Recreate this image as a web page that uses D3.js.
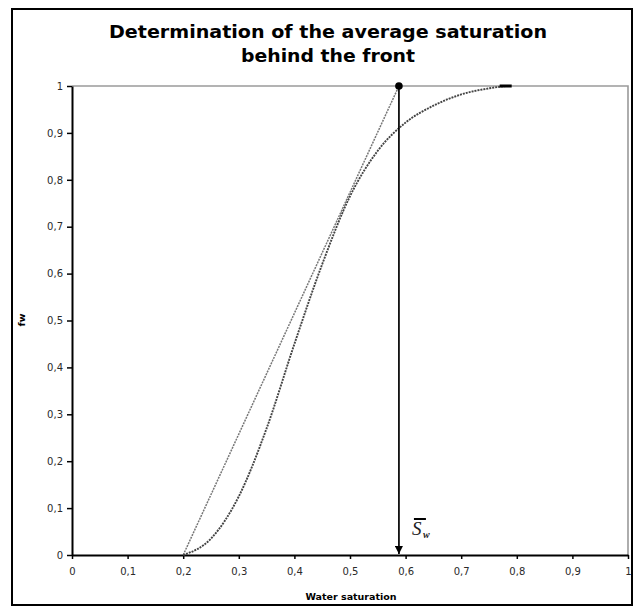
<!doctype html>
<html>
<head>
	<meta charset="utf-8">
	<title>Average saturation behind the front</title>
	<script src="https://cdnjs.cloudflare.com/ajax/libs/d3/7.8.5/d3.min.js"></script>
	<style>
		body { margin: 0; background: #fff; }
		text { font-family: "DejaVu Sans", Verdana, sans-serif; }
		text.serif { font-family: "Liberation Serif", "DejaVu Serif", serif; font-style: italic; }
	</style>
</head>
<body>
	<script>
		// fractional flow curve fw(Sw)
		var sw = [0.20, 0.25, 0.30, 0.35, 0.40, 0.45, 0.50, 0.55, 0.60, 0.65, 0.70, 0.75, 0.78];
		var fw = [0, 0.035, 0.125, 0.27, 0.45, 0.62, 0.765, 0.862, 0.922, 0.958, 0.982, 0.995, 1];

		// tangent from the connate water point to fw = 1
		var tangentSw = [0.20, 0.588];
		var tangentFw = [0, 1];

		// average saturation behind the front
		var swAvg = 0.588;

		var xTicks = [0, 0.1, 0.2, 0.3, 0.4, 0.5, 0.6, 0.7, 0.8, 0.9, 1];
		var xTickLabels = ['0', '0,1', '0,2', '0,3', '0,4', '0,5', '0,6', '0,7', '0,8', '0,9', '1'];
		var yTicks = [0, 0.1, 0.2, 0.3, 0.4, 0.5, 0.6, 0.7, 0.8, 0.9, 1];
		var yTickLabels = ['0', '0,1', '0,2', '0,3', '0,4', '0,5', '0,6', '0,7', '0,8', '0,9', '1'];

		var W = 636, H = 615;

		var svg = d3.select('body').append('svg')
			.attr('width', W)
			.attr('height', H);

		// chart frame
		svg.append('rect')
			.attr('x', 12).attr('y', 9)
			.attr('width', 620).attr('height', 596)
			.attr('fill', '#fff')
			.attr('stroke', '#000')
			.attr('stroke-width', 2);

		var x = d3.scaleLinear().domain([0, 1]).range([72, 628]);
		var y = d3.scaleLinear().domain([0, 1]).range([555, 86]);

		// title
		var title = svg.append('text')
			.attr('text-anchor', 'middle')
			.attr('font-weight', 'bold')
			.attr('font-size', 17)
			.attr('fill', '#000');
		title.append('tspan').attr('x', 328).attr('y', 38)
			.attr('textLength', 438).attr('lengthAdjust', 'spacingAndGlyphs')
			.text('Determination of the average saturation');
		title.append('tspan').attr('x', 328).attr('y', 62)
			.attr('textLength', 174).attr('lengthAdjust', 'spacingAndGlyphs')
			.text('behind the front');

		// plot area border (top and right, grey)
		svg.append('path')
			.attr('d', 'M' + x(0) + ',' + y(1) + 'H' + x(1) + 'V' + y(0))
			.attr('fill', 'none')
			.attr('stroke', '#9a9a9a')
			.attr('stroke-width', 1.6);

		// axes
		var xAxis = svg.append('g')
			.attr('transform', 'translate(0,' + y(0) + ')')
			.call(d3.axisBottom(x)
				.tickValues(xTicks)
				.tickSizeInner(4)
				.tickSizeOuter(0)
				.tickPadding(9)
				.tickFormat(function (d, i) { return xTickLabels[i]; }));

		var yAxis = svg.append('g')
			.attr('transform', 'translate(' + x(0) + ',0)')
			.call(d3.axisLeft(y)
				.tickValues(yTicks)
				.tickSizeInner(5)
				.tickSizeOuter(0)
				.tickPadding(4)
				.tickFormat(function (d, i) { return yTickLabels[i]; }));

		[xAxis, yAxis].forEach(function (a) {
			a.select('.domain').attr('stroke', '#000').attr('stroke-width', 2);
			a.selectAll('.tick line').attr('stroke', '#000').attr('stroke-width', 1.5);
			a.selectAll('.tick text')
				.attr('font-family', '"DejaVu Sans", Verdana, sans-serif')
				.attr('font-size', 10)
				.attr('fill', '#2a2a2a');
		});

		// axis titles
		svg.append('text')
			.attr('x', 351).attr('y', 600)
			.attr('text-anchor', 'middle')
			.attr('font-weight', 'bold')
			.attr('font-size', 9.5)
			.text('Water saturation');

		svg.append('text')
			.attr('transform', 'translate(25,320) rotate(-90)')
			.attr('text-anchor', 'middle')
			.attr('font-weight', 'bold')
			.attr('font-size', 9.5)
			.text('fw');

		// tangent line
		var tangent = d3.line()
			.x(function (d) { return x(d[0]); })
			.y(function (d) { return y(d[1]); });

		svg.append('path')
			.datum(d3.zip(tangentSw, tangentFw))
			.attr('d', tangent)
			.attr('fill', 'none')
			.attr('stroke', '#777')
			.attr('stroke-width', 1.5)
			.attr('stroke-dasharray', '2,1');

		// fw curve
		var curve = d3.line()
			.x(function (d) { return x(d[0]); })
			.y(function (d) { return y(d[1]); })
			.curve(d3.curveMonotoneX);

		var pts = d3.zip(sw, fw);
		svg.append('path')
			.datum(pts)
			.attr('d', curve)
			.attr('fill', 'none')
			.attr('stroke', '#444')
			.attr('stroke-width', 1.9)
			.attr('stroke-dasharray', '2,1');

		// end marker of the curve
		var last = pts[pts.length - 1];
		svg.append('rect')
			.attr('x', x(last[0]) - 6).attr('y', y(last[1]) - 1.5)
			.attr('width', 12).attr('height', 3)
			.attr('fill', '#000');

		// vertical arrow down to the average saturation
		svg.append('defs').append('marker')
			.attr('id', 'arrow')
			.attr('viewBox', '0 0 10 10')
			.attr('refX', 10).attr('refY', 5)
			.attr('markerWidth', 5).attr('markerHeight', 5)
			.attr('markerUnits', 'strokeWidth')
			.attr('orient', 'auto')
			.append('path')
			.attr('d', 'M0,0L10,5L0,10z')
			.attr('fill', '#000');

		svg.append('line')
			.attr('x1', x(swAvg)).attr('y1', y(1))
			.attr('x2', x(swAvg)).attr('y2', y(0) - 1)
			.attr('stroke', '#000')
			.attr('stroke-width', 1.7)
			.attr('marker-end', 'url(#arrow)');

		svg.append('circle')
			.attr('cx', x(swAvg)).attr('cy', y(1))
			.attr('r', 3.8)
			.attr('fill', '#000');

		// S̄w label
		var lbl = svg.append('g')
			.attr('transform', 'translate(' + (x(swAvg) + 13) + ',' + (y(0) - 20) + ')');
		lbl.append('text')
			.attr('class', 'serif')
			.attr('font-size', 19)
			.attr('fill', '#222')
			.text('S');
		lbl.append('text')
			.attr('class', 'serif')
			.attr('x', 11).attr('y', 3)
			.attr('font-size', 10)
			.attr('font-weight', 'bold')
			.attr('fill', '#222')
			.text('w');
		lbl.append('line')
			.attr('x1', 2).attr('x2', 14)
			.attr('y1', -16).attr('y2', -16)
			.attr('stroke', '#000')
			.attr('stroke-width', 2);
	</script>
</body>
</html>
